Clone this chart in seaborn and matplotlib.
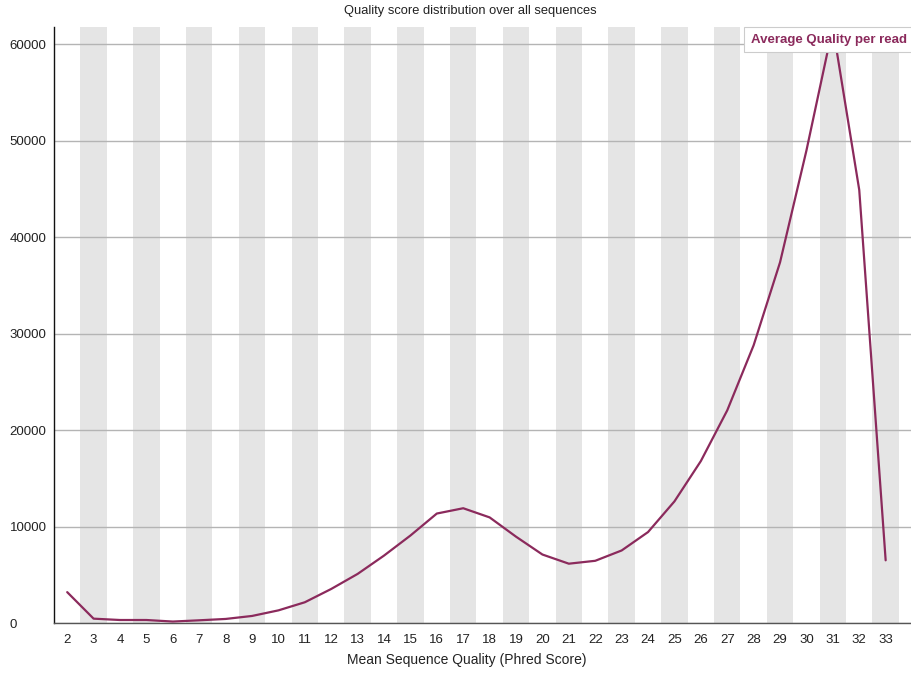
import matplotlib
matplotlib.use("Agg")
import matplotlib.pyplot as plt
import seaborn as sns
import pandas as pd

# Mean Phred score per read and the number of reads at each score
quality = [2, 3, 4, 5, 6, 7, 8, 9, 10, 11, 12, 13, 14, 15, 16, 17,
           18, 19, 20, 21, 22, 23, 24, 25, 26, 27, 28, 29, 30, 31, 32, 33]
read_count = [3200, 450, 310, 310, 150, 280, 420, 730, 1310, 2150, 3530,
              5090, 6990, 9070, 11350, 11900, 10950, 8950, 7100, 6150, 6450,
              7520, 9430, 12610, 16790, 22050, 28800, 37400, 49000, 61800,
              44900, 6500]
y_ticks = [0, 10000, 20000, 30000, 40000, 50000, 60000]

title_text = "Quality score distribution over all sequences"
x_label = "Mean Sequence Quality (Phred Score)"
series_name = "Average Quality per read"

df = pd.DataFrame({"quality": quality, "count": read_count})

sns.set_theme(style="white")
plt.rcParams["font.family"] = ["Liberation Sans", "DejaVu Sans"]

line_color = "#8b2a5c"
W, H = 911, 675

fig = plt.figure(figsize=(W / 100, H / 100), dpi=100)
ax = fig.add_axes([54 / W, 52 / H, 857 / W, 596 / H])

# alternating shaded columns behind every other score
for q in quality:
    if q % 2 == 1:
        ax.axvspan(q - 0.5, q + 0.5, color="#e5e5e5", lw=0, zorder=0)

sns.lineplot(data=df, x="quality", y="count", ax=ax, color=line_color,
             linewidth=1.6, label=series_name, zorder=3)

ax.set_xlim(1.5, 33.96)
ax.set_ylim(0, 61800)
ax.set_xticks(quality)
ax.set_xticklabels([str(q) for q in quality])
ax.set_yticks(y_ticks)
ax.set_yticklabels([str(v) for v in y_ticks])
ax.tick_params(axis="both", length=0, labelsize=9.5, colors="#222222")
ax.tick_params(axis="x", pad=8)
ax.tick_params(axis="y", pad=32)
for lab in ax.get_yticklabels():
    lab.set_horizontalalignment("left")
ax.grid(axis="y", color="#b4b4b4", linewidth=1.0, zorder=1)
ax.grid(axis="x", visible=False)
ax.set_axisbelow(True)

for side in ("top", "right"):
    ax.spines[side].set_visible(False)
ax.spines["left"].set_color("#111111")
ax.spines["left"].set_linewidth(1.0)
ax.spines["bottom"].set_color("#555555")
ax.spines["bottom"].set_linewidth(1.0)

ax.set_xlabel("")
ax.set_ylabel("")
fig.text(467 / W, 1 - 660 / H, x_label, ha="center", va="center",
         fontsize=10, color="#222222")
fig.text(470 / W, 1 - 11 / H, title_text, ha="center", va="center",
         fontsize=9.3, color="#222222")

leg = ax.legend(loc="upper left", bbox_to_anchor=((744 - 54) / 857, 1.0),
                borderaxespad=0, handlelength=0, handletextpad=0,
                frameon=True, fancybox=False, framealpha=1,
                edgecolor="#cccccc", borderpad=0.5,
                prop={"size": 9.5, "weight": "bold"})
for h in leg.legend_handles:
    h.set_visible(False)
for t in leg.get_texts():
    t.set_color(line_color)
leg.get_frame().set_linewidth(0.8)
leg.set_zorder(5)

fig.savefig("out.png", dpi=100)
